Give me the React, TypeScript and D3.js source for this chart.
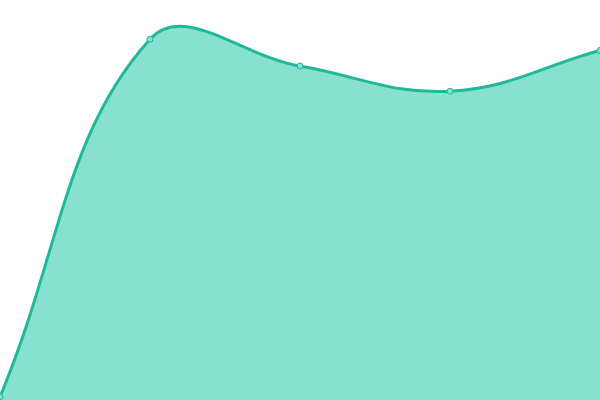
import * as d3 from "d3";
import { useEffect, useRef } from "react";

const labels = ["A", "B", "C", "D", "E"];
const values = [0.8, 90.2, 83.5, 77.2, 87.4];

const width = 600;
const height = 400;
const tension = 0.4;

// chart.js-like spline control points
const splinePath = (pts: [number, number][]) => {
  const cps = pts.map((p, i) => {
    const prev = pts[i - 1] || p;
    const next = pts[i + 1] || p;
    const d01 = Math.hypot(p[0] - prev[0], p[1] - prev[1]);
    const d12 = Math.hypot(next[0] - p[0], next[1] - p[1]);
    const s01 = d01 / (d01 + d12 || 1);
    const s12 = d12 / (d01 + d12 || 1);
    const fa = tension * s01;
    const fb = tension * s12;
    const cap = (v: number, max: number) => Math.max(0, Math.min(max, v));
    return {
      prev: [cap(p[0] - fa * (next[0] - prev[0]), width), cap(p[1] - fa * (next[1] - prev[1]), height)],
      next: [cap(p[0] + fb * (next[0] - prev[0]), width), cap(p[1] + fb * (next[1] - prev[1]), height)],
    };
  });
  const path = d3.path();
  path.moveTo(pts[0][0], pts[0][1]);
  for (let i = 1; i < pts.length; i++) {
    const a = cps[i - 1].next;
    const b = cps[i].prev;
    path.bezierCurveTo(a[0], a[1], b[0], b[1], pts[i][0], pts[i][1]);
  }
  return path.toString();
};

const App = () => {
  const ref = useRef<SVGSVGElement>(null);
  useEffect(() => {
    if (!ref.current) return;
    const svg = d3.select(ref.current);
    svg.selectAll("*").remove();
    const x = d3.scalePoint().domain(labels).range([0, width]);
    const y = d3.scaleLinear().domain([0, 100]).range([height, 0]);
    const pts = values.map((v, i) => [x(labels[i]) as number, y(v)] as [number, number]);
    const line = splinePath(pts);
    svg
      .append("path")
      .attr("d", `${line}L${width},${height}L0,${height}Z`)
      .attr("fill", "#88e0cf");
    svg
      .append("path")
      .attr("d", line)
      .attr("fill", "none")
      .attr("stroke", "#1fb99a")
      .attr("stroke-width", 3);
    svg
      .selectAll("circle")
      .data(pts)
      .enter()
      .append("circle")
      .attr("cx", (d) => d[0])
      .attr("cy", (d) => d[1])
      .attr("r", 3)
      .attr("fill", "#88e0cf")
      .attr("stroke", "#1fb99a")
      .attr("stroke-width", 1);
  }, []);
  return (
    <svg
      ref={ref}
      width={width}
      height={height}
      style={{ position: "fixed", left: 0, top: 0 }}
    />
  );
};

export default App;
